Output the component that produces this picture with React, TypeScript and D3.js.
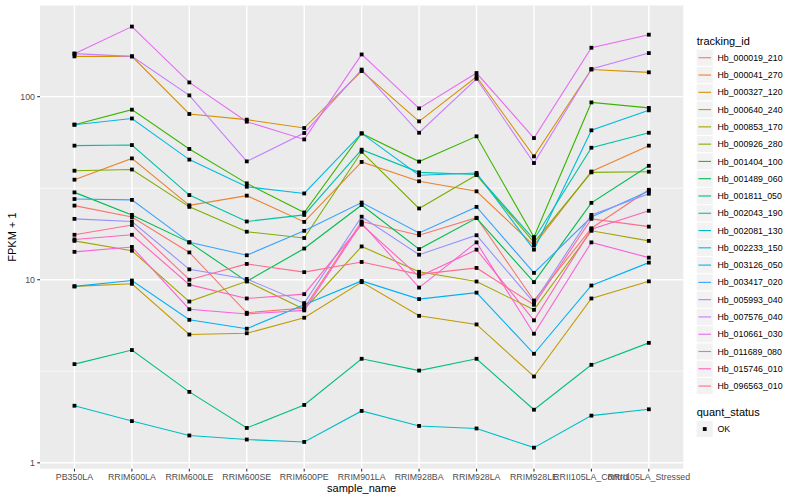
import React from 'react';
import * as d3 from 'd3';

const categories = [
  'PB350LA', 'RRIM600LA', 'RRIM600LE', 'RRIM600SE', 'RRIM600PE', 'RRIM901LA',
  'RRIM928BA', 'RRIM928LA', 'RRIM928LE', 'RRII105LA_Control', 'RRII105LA_Stressed',
];

const trackingIds = [
  'Hb_000019_210', 'Hb_000041_270', 'Hb_000327_120', 'Hb_000640_240', 'Hb_000853_170',
  'Hb_000926_280', 'Hb_001404_100', 'Hb_001489_060', 'Hb_001811_050', 'Hb_002043_190',
  'Hb_002081_130', 'Hb_002233_150', 'Hb_003126_050', 'Hb_003417_020', 'Hb_005993_040',
  'Hb_007576_040', 'Hb_010661_030', 'Hb_011689_080', 'Hb_015746_010', 'Hb_096563_010',
];

const palette = [
  '#F8766D', '#EA8331', '#D89000', '#C09B00', '#A3A500', '#7CAE00', '#39B600', '#00BB4E',
  '#00BF7D', '#00C1A3', '#00BFC4', '#00BAE0', '#00B0F6', '#35A2FF', '#9590FF', '#C77CFF',
  '#E76BF3', '#FA62DB', '#FF62BC', '#FF6C91',
];

// FPKM + 1 per sample, in category order
const hb_000019_210 = [25.4, 22.0, 14.1, 6.6, 7.0, 20.8, 17.5, 21.8, 7.7, 19.1, 31.0];
const hb_000041_270 = [35.2, 46.0, 25.5, 28.8, 20.7, 44.0, 34.5, 30.4, 15.4, 39.0, 54.0];
const hb_000327_120 = [166, 166, 80.4, 74.9, 67.4, 138, 73.3, 128.5, 47.2, 140.6, 135.8];
const hb_000640_240 = [9.2, 9.5, 5.02, 5.1, 6.2, 9.7, 6.35, 5.7, 2.96, 7.9, 9.8];
const hb_000853_170 = [16.3, 14.4, 7.6, 9.8, 6.9, 15.2, 11.05, 9.78, 6.85, 18.5, 16.3];
const hb_000926_280 = [39.4, 40.0, 25.0, 18.3, 16.9, 50.0, 24.5, 37.3, 16.0, 38.6, 38.9];
const hb_001404_100 = [70.3, 84.9, 51.8, 33.6, 23.3, 63.0, 44.2, 60.7, 17.1, 93.0, 86.8];
const hb_001489_060 = [30.0, 22.6, 16.0, 9.8, 14.8, 25.6, 14.7, 21.7, 9.7, 26.3, 41.9];
const hb_001811_050 = [3.46, 4.13, 2.44, 1.55, 2.07, 3.7, 3.19, 3.7, 1.95, 3.43, 4.52];
const hb_002043_190 = [54.0, 54.4, 29.0, 20.8, 22.6, 51.3, 38.6, 37.6, 16.6, 52.6, 63.5];
const hb_002081_130 = [2.05, 1.69, 1.41, 1.34, 1.3, 1.92, 1.59, 1.54, 1.21, 1.81, 1.96];
const hb_002233_150 = [70.3, 76.0, 45.3, 32.2, 29.6, 63.0, 37.2, 38.3, 14.6, 65.5, 84.2];
const hb_003126_050 = [9.2, 9.9, 6.04, 5.4, 7.3, 9.85, 7.84, 8.5, 3.94, 9.3, 12.4];
const hb_003417_020 = [27.6, 27.3, 16.0, 13.6, 18.5, 26.4, 18.0, 25.0, 10.9, 22.0, 30.5];
const hb_005993_040 = [21.5, 20.8, 11.4, 10.1, 7.45, 22.1, 13.7, 17.5, 7.5, 22.6, 29.5];
const hb_007576_040 = [171.8, 166, 101.6, 44.3, 63.3, 140.6, 63.5, 125.2, 43.4, 141.6, 173];
const hb_010661_030 = [171.8, 241.5, 119.6, 73.0, 58.4, 170, 86.3, 134.6, 59.4, 185, 218];
const hb_011689_080 = [14.2, 15.1, 6.9, 6.5, 6.8, 20.4, 9.06, 16.0, 5.07, 16.0, 13.2];
const hb_015746_010 = [16.6, 17.6, 9.4, 7.9, 8.34, 20.0, 10.4, 14.6, 6.0, 18.9, 23.8];
const hb_096563_010 = [17.6, 19.9, 10.0, 12.2, 11.0, 12.5, 10.7, 11.6, 7.3, 21.5, 19.5];

const seriesValues = [
  hb_000019_210, hb_000041_270, hb_000327_120, hb_000640_240, hb_000853_170,
  hb_000926_280, hb_001404_100, hb_001489_060, hb_001811_050, hb_002043_190,
  hb_002081_130, hb_002233_150, hb_003126_050, hb_003417_020, hb_005993_040,
  hb_007576_040, hb_010661_030, hb_011689_080, hb_015746_010, hb_096563_010,
];

const yMajorTicks = [1, 10, 100];
const yMinorTicks = [Math.pow(10, 0.5), Math.pow(10, 1.5), Math.pow(10, 2.5)];

const FONT = '"Liberation Sans", Arial, Helvetica, sans-serif';

export default function App() {
  const W = 800;
  const H = 500;
  const pl = 40, pr = 683.3, pt = 5.5, pb = 468.7;

  const x = d3.scalePoint<string>().domain(categories).range([pl, pr]).padding(0.6);
  const all = seriesValues.flat();
  const lmin = Math.log10(d3.min(all) as number);
  const lmax = Math.log10(d3.max(all) as number);
  const ext = (lmax - lmin) * 0.05;
  const y = d3.scaleLog().domain([Math.pow(10, lmin - ext), Math.pow(10, lmax + ext)]).range([pb, pt]);

  const line = d3.line<number>()
    .x((_, i) => x(categories[i]) as number)
    .y((d) => y(d));

  const legendX = 696.7;
  const keySize = 17.28;
  const key0 = 49.7;
  const ps = 3.8;

  return (
    <svg width={W} height={H} style={{ position: 'absolute', left: 0, top: 0, background: '#fff' }} fontFamily={FONT}>
      <rect x={0} y={0} width={W} height={H} fill="#fff" />
      <rect x={pl} y={pt} width={pr - pl} height={pb - pt} fill="#EBEBEB" />
      {yMinorTicks.filter((t) => y(t) >= pt && y(t) <= pb).map((t) => (
        <line key={'ym' + t} x1={pl} x2={pr} y1={y(t)} y2={y(t)} stroke="#fff" strokeWidth={0.7} />
      ))}
      {yMajorTicks.map((t) => (
        <line key={'yM' + t} x1={pl} x2={pr} y1={y(t)} y2={y(t)} stroke="#fff" strokeWidth={1.4} />
      ))}
      {categories.map((c) => (
        <line key={'xg' + c} x1={x(c)} x2={x(c)} y1={pt} y2={pb} stroke="#fff" strokeWidth={1.4} />
      ))}
      {seriesValues.map((vals, i) => (
        <path key={'l' + i} d={line(vals) as string} fill="none" stroke={palette[i]} strokeWidth={1.1} />
      ))}
      {seriesValues.map((vals, i) =>
        vals.map((v, j) => (
          <rect key={'p' + i + '_' + j} x={(x(categories[j]) as number) - ps / 2} y={y(v) - ps / 2} width={ps} height={ps} fill="#000" />
        ))
      )}
      {/* y axis */}
      {yMajorTicks.map((t) => (
        <g key={'yt' + t}>
          <line x1={pl - 2.75} x2={pl} y1={y(t)} y2={y(t)} stroke="#333" strokeWidth={1.1} />
          <text x={pl - 5} y={y(t)} dy="0.35em" textAnchor="end" fontSize={8.8} fill="#4D4D4D">{t}</text>
        </g>
      ))}
      {categories.map((c) => (
        <g key={'xt' + c}>
          <line x1={x(c)} x2={x(c)} y1={pb} y2={pb + 2.75} stroke="#333" strokeWidth={1.1} />
          <text x={x(c)} y={pb + 11.6} textAnchor="middle" fontSize={8.8} fill="#4D4D4D">{c}</text>
        </g>
      ))}
      <text x={(pl + pr) / 2} y={492} textAnchor="middle" fontSize={11} fill="#000">sample_name</text>
      <text transform={`translate(15.5,${(pt + pb) / 2}) rotate(-90)`} textAnchor="middle" fontSize={11} fill="#000">FPKM + 1</text>

      {/* legend: tracking_id */}
      <text x={legendX} y={44.5} fontSize={11} fill="#000">tracking_id</text>
      {trackingIds.map((id, i) => {
        const ky = key0 + i * keySize;
        return (
          <g key={'lg' + id}>
            <rect x={legendX} y={ky} width={keySize - 1.2} height={keySize - 1.2} fill="#F2F2F2" />
            <line x1={legendX + 1.7} x2={legendX + keySize - 2.9} y1={ky + (keySize - 1.2) / 2} y2={ky + (keySize - 1.2) / 2} stroke={palette[i]} strokeWidth={1.1} />
            <text x={legendX + keySize + 3.5} y={ky + (keySize - 1.2) / 2} dy="0.35em" fontSize={8.8} fill="#000">{id}</text>
          </g>
        );
      })}

      {/* legend: quant_status */}
      <text x={legendX} y={415.5} fontSize={11} fill="#000">quant_status</text>
      <rect x={legendX} y={421} width={keySize - 1.2} height={keySize - 1.2} fill="#F2F2F2" />
      <rect x={legendX + (keySize - 1.2) / 2 - ps / 2} y={421 + (keySize - 1.2) / 2 - ps / 2} width={ps} height={ps} fill="#000" />
      <text x={legendX + keySize + 3.5} y={421 + (keySize - 1.2) / 2} dy="0.35em" fontSize={8.8} fill="#000">OK</text>
    </svg>
  );
}
